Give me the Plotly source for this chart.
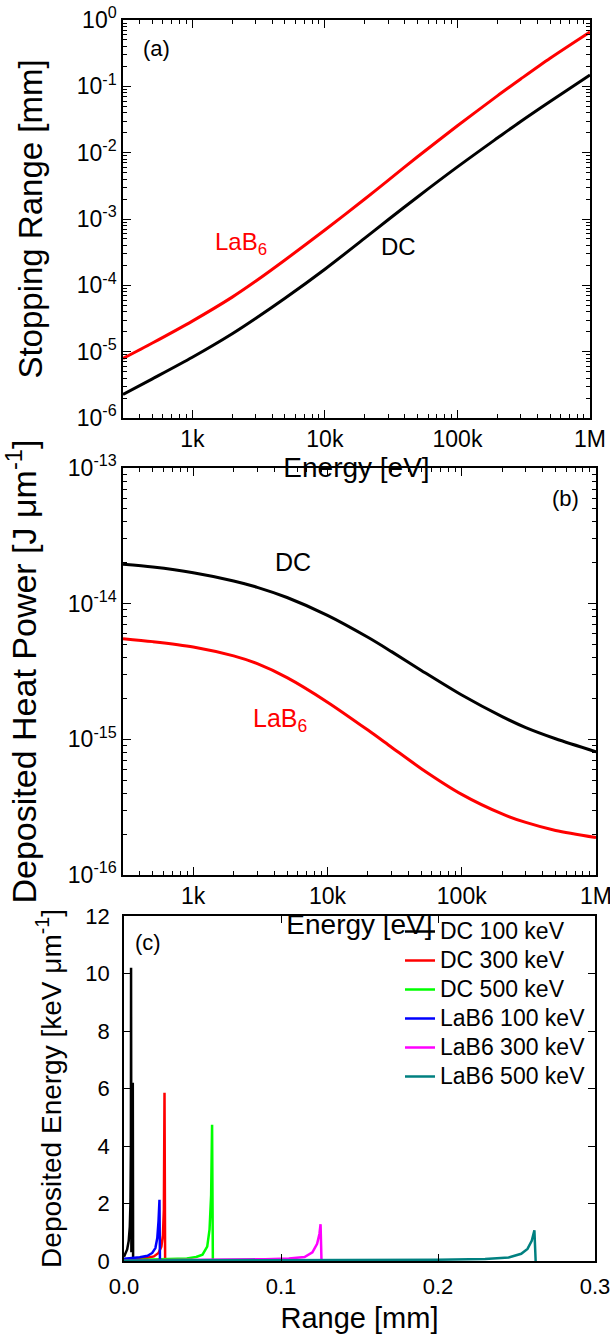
import plotly.graph_objects as go

W, H = 610, 1338

def fx(px):
    return px / W

def fy(py):
    return 1 - py / H

# ---------------- Panel (a): stopping range ----------------
energy_a = [300, 500, 1000, 2000, 3000, 5000, 10000, 20000, 30000, 50000,
            100000, 200000, 300000, 500000, 1000000]
range_lab6 = [7.89e-6, 1.35e-5, 2.89e-5, 6.64e-5, 1.15e-4, 2.41e-4, 6.82e-4, 2.0e-3,
              3.83e-3, 8.67e-3, 0.0254, 0.0719, 0.129, 0.265, 0.66]
range_dc = [2.26e-6, 3.89e-6, 8.22e-6, 1.86e-5, 3.16e-5, 6.38e-5, 1.75e-4, 5.14e-4,
            9.75e-4, 2.15e-3, 6.1e-3, 0.0166, 0.0296, 0.0593, 0.148]

# ---------------- Panel (b): deposited heat power ----------------
energy_b = [300, 500, 1000, 2000, 3000, 5000, 10000, 20000, 30000, 50000,
            100000, 200000, 300000, 500000, 1000000]
power_dc = [1.95e-14, 1.86e-14, 1.69e-14, 1.47e-14, 1.32e-14, 1.11e-14, 8.2e-15,
            5.65e-15, 4.43e-15, 3.22e-15, 2.12e-15, 1.47e-15, 1.22e-15, 1.01e-15, 8.1e-16]
power_lab6 = [5.52e-15, 5.25e-15, 4.8e-15, 4.12e-15, 3.61e-15, 2.85e-15, 1.88e-15,
              1.17e-15, 8.75e-16, 6.08e-16, 3.93e-16, 2.82e-16, 2.44e-16, 2.13e-16, 1.89e-16]

# ---------------- Panel (c): deposited energy vs range ----------------
series_names = ["DC 100 keV", "DC 300 keV", "DC 500 keV",
                "LaB6 100 keV", "LaB6 300 keV", "LaB6 500 keV"]
series_colors = ["#000000", "#FF0000", "#00FF00", "#0000FF", "#FF00FF", "#008080"]

dc100_x = [0.0, 0.001, 0.002, 0.003, 0.0037, 0.0041, 0.0044, 0.0045, 0.0047, 0.0056, 0.0058]
dc100_y = [0.15, 0.25, 0.4, 0.7, 1.2, 2.0, 4.0, 10.2, 0.3, 6.2, 0.0]
dc300_x = [0.0, 0.005, 0.01, 0.015, 0.019, 0.022, 0.0238, 0.0248, 0.0254, 0.0258, 0.0262]
dc300_y = [0.05, 0.06, 0.08, 0.11, 0.16, 0.28, 0.5, 0.9, 1.8, 5.85, 0.0]
dc500_x = [0.0, 0.01, 0.02, 0.03, 0.04, 0.046, 0.05, 0.053, 0.0545, 0.0555, 0.0561, 0.0566]
dc500_y = [0.03, 0.04, 0.05, 0.06, 0.09, 0.14, 0.22, 0.5, 1.1, 2.3, 4.74, 0.0]
lab100_x = [0.0, 0.005, 0.01, 0.015, 0.018, 0.02, 0.0212, 0.022, 0.0226, 0.0229]
lab100_y = [0.08, 0.1, 0.13, 0.18, 0.28, 0.45, 0.8, 1.4, 2.13, 0.0]
lab300_x = [0.0, 0.03, 0.06, 0.09, 0.105, 0.115, 0.12, 0.123, 0.1245, 0.1252, 0.1258]
lab300_y = [0.02, 0.03, 0.04, 0.06, 0.09, 0.14, 0.3, 0.6, 0.95, 1.28, 0.0]
lab500_x = [0.0, 0.05, 0.1, 0.15, 0.2, 0.23, 0.245, 0.253, 0.257, 0.2597, 0.2614, 0.2622]
lab500_y = [0.02, 0.025, 0.03, 0.035, 0.045, 0.07, 0.12, 0.25, 0.42, 0.7, 1.07, 0.0]

series_x = [dc100_x, dc300_x, dc500_x, lab100_x, lab300_x, lab500_x]
series_y = [dc100_y, dc300_y, dc500_y, lab100_y, lab300_y, lab500_y]

FONT = "Liberation Sans, Arial, sans-serif"

def tf(size, color="black"):
    return dict(family=FONT, size=size, color=color)

fig = go.Figure()

spl = dict(width=3, shape="spline", smoothing=0.8)
# panel a
fig.add_trace(go.Scatter(x=energy_a, y=range_lab6, mode="lines", line=dict(spl, color="#FF0000"),
                         xaxis="x", yaxis="y", showlegend=False))
fig.add_trace(go.Scatter(x=energy_a, y=range_dc, mode="lines", line=dict(spl, color="#000000"),
                         xaxis="x", yaxis="y", showlegend=False))
# panel b
fig.add_trace(go.Scatter(x=energy_b, y=power_dc, mode="lines", line=dict(spl, color="#000000"),
                         xaxis="x2", yaxis="y2", showlegend=False))
fig.add_trace(go.Scatter(x=energy_b, y=power_lab6, mode="lines", line=dict(spl, color="#FF0000"),
                         xaxis="x2", yaxis="y2", showlegend=False))
# panel c (legend text drawn a little larger than the row pitch font)
for nm, col, xs, ys in zip(series_names, series_colors, series_x, series_y):
    fig.add_trace(go.Scatter(x=xs, y=ys, mode="lines",
                             name='<span style="font-size:23px">%s</span>' % nm,
                             line=dict(color=col, width=2.5), xaxis="x3", yaxis="y3"))

minor_x = [m * 10.0 ** e for e in range(2, 6) for m in range(2, 10)]

def logx(domain, anchor, tick_size, title_size, standoff):
    return dict(type="log", domain=domain, anchor=anchor, range=[2.4771, 6.0], automargin=False,
                tickmode="array", tickvals=[1e3, 1e4, 1e5, 1e6], ticktext=["1k", "10k", "100k", "1M"],
                ticks="inside", ticklen=8, tickwidth=1.2, ticklabeloverflow="allow",
                tickcolor="black", showline=True, linecolor="black", linewidth=1.5,
                mirror="allticks", showgrid=False, zeroline=False, tickfont=tf(tick_size),
                minor=dict(ticks="inside", ticklen=4, tickwidth=1, tickcolor="black", showgrid=False,
                           tickmode="array", tickvals=minor_x),
                title=dict(text="Energy [eV]", font=tf(title_size), standoff=standoff))

def logy(domain, anchor, rng, title, tick_size, title_size, standoff):
    vals = list(range(rng[0], rng[1] + 1))
    return dict(type="log", domain=domain, anchor=anchor, range=rng, automargin=False,
                tickmode="array", tickvals=[10.0 ** v for v in vals],
                ticktext=["10<sup>%d</sup>" % v for v in vals], ticklabeloverflow="allow",
                ticks="inside", ticklen=8, tickwidth=1.2, tickcolor="black",
                showline=True, linecolor="black", linewidth=1.5, mirror="allticks",
                showgrid=False, zeroline=False, tickfont=tf(tick_size),
                minor=dict(ticks="inside", ticklen=4, tickwidth=1, tickcolor="black", showgrid=False,
                           tickmode="array",
                           tickvals=[m * 10.0 ** v for v in range(rng[0], rng[1]) for m in range(2, 10)]),
                title=dict(text=title, font=tf(title_size), standoff=standoff))

fig.update_layout(
    width=W, height=H, margin=dict(l=0, r=0, t=0, b=0),
    paper_bgcolor="white", plot_bgcolor="white",
    font=dict(family=FONT, color="black"),
    xaxis=logx([fx(123), fx(590)], "y", 23, 28, 5),
    yaxis=logy([fy(418), fy(20)], "x", [-6, 0], "Stopping Range [mm]", 23, 33, 24),
    xaxis2=logx([fx(123), fx(596)], "y2", 23, 28, 5),
    yaxis2=logy([fy(875), fy(468)], "x2", [-16, -13],
                "Deposited Heat Power [J \u03bcm<sup>-1</sup>]", 23, 34, 23),
    xaxis3=dict(domain=[fx(124), fx(595)], anchor="y3", range=[0, 0.3], dtick=0.1, tickformat=".1f",
                automargin=False, ticks="inside", ticklen=7, tickwidth=1.2, tickcolor="black",
                showline=True, linecolor="black", linewidth=1.5, mirror="allticks",
                showgrid=False, zeroline=False, tickfont=tf(22), ticklabelstandoff=5,
                ticklabeloverflow="allow",
                title=dict(text="Range [mm]", font=tf(29), standoff=10)),
    yaxis3=dict(domain=[fy(1261), fy(916)], anchor="x3", range=[0, 12], dtick=2, automargin=False,
                ticks="inside", ticklen=7, tickwidth=1.2, tickcolor="black",
                showline=True, linecolor="black", linewidth=1.5, mirror="allticks",
                showgrid=False, zeroline=False, tickfont=tf(22), ticklabelstandoff=8,
                ticklabeloverflow="allow",
                title=dict(text="Deposited Energy [keV \u03bcm<sup>-1</sup>]", font=tf(28), standoff=16)),
    legend=dict(x=fx(400), y=fy(912), xanchor="left", yanchor="top",
                bgcolor="rgba(0,0,0,0)", borderwidth=0,
                font=tf(20), tracegroupgap=0),
    showlegend=True,
)

fig.add_annotation(x=2.727, y=-0.43, xref="x", yref="y", text="(a)", showarrow=False, font=tf(22))
fig.add_annotation(x=3.365, y=-3.376, xref="x", yref="y", text="LaB<sub>6</sub>", showarrow=False,
                   font=tf(24, "#FF0000"))
fig.add_annotation(x=4.558, y=-3.418, xref="x", yref="y", text="DC", showarrow=False, font=tf(24))
fig.add_annotation(x=5.773, y=-13.225, xref="x2", yref="y2", text="(b)", showarrow=False, font=tf(22))
fig.add_annotation(x=3.741, y=-13.692, xref="x2", yref="y2", text="DC", showarrow=False, font=tf(25))
fig.add_annotation(x=3.645, y=-14.855, xref="x2", yref="y2", text="LaB<sub>6</sub>", showarrow=False,
                   font=tf(25, "#FF0000"))
fig.add_annotation(x=0.015, y=11.09, xref="x3", yref="y3", text="(c)", showarrow=False, font=tf(22))

# remove the default 8px page margin so the figure sits at the window's top-left corner
fig.write_html("out.html", config={"displayModeBar": False},
               post_script="document.body.style.margin='0px';")
